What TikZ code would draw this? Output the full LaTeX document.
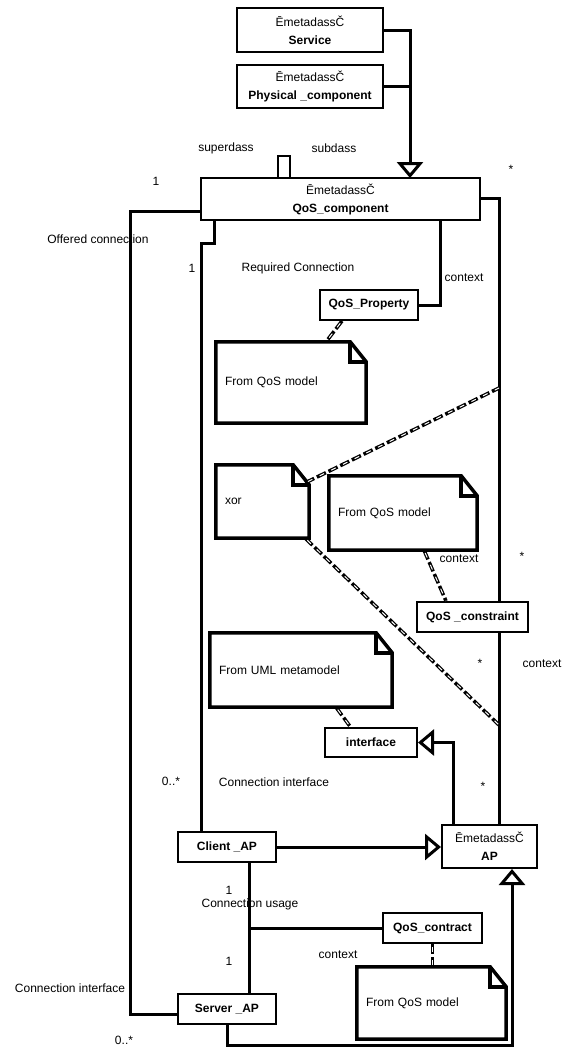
\documentclass[tikz,border=0pt]{standalone}
\usepackage{fontspec}
\setmainfont{Liberation Sans}
\usetikzlibrary{arrows.meta}

% note with folded corner, drawn round a named node
\newcommand\foldnote[1]{%
  \draw[notedraw] (#1.north west) -- ([xshift=-16pt]#1.north east)
    -- ([yshift=-20pt]#1.north east) -- (#1.south east) -- (#1.south west) -- cycle;
  \draw[notedraw] ([xshift=-16pt]#1.north east) -- ([xshift=-16pt,yshift=-20pt]#1.north east)
    -- ([yshift=-20pt]#1.north east);}

\begin{document}
\begin{tikzpicture}[x=1pt, y=-1pt,
    every node/.style={font=\fontsize{12}{14}\selectfont},
    classbox/.style={draw, line width=2pt, inner sep=0pt, align=center,
      font=\fontsize{12}{18}\selectfont},
    note/.style={inner xsep=9pt, inner ysep=0pt, align=left},
    notedraw/.style={line width=3.5pt, line join=miter},
    conn/.style={line width=3pt},
    gen/.style={conn, -{Triangle[open, length=16pt, width=26pt]}},
    depend/.style={line width=3.5pt, dash pattern=on 10pt off 3pt,
      postaction={draw=white, line width=1pt, dash pattern=on 5pt off 8pt, dash phase=-3pt}}]
    \useasboundingbox (0,0) rectangle (564,1047);

    % metaclasses at the top
    \node[classbox, minimum width=146, minimum height=44] (svc) at (310,30)
      {ĒmetadassČ\\\textbf{Service}};
    \node[classbox, minimum width=146, minimum height=43] (phys) at (310,86.5)
      {ĒmetadassČ\\\textbf{Physical \_component}};
    \node[classbox, minimum width=279, minimum height=42] (qoscomp) at (340.5,199)
      {ĒmetadassČ\\\textbf{QoS\_component}};
    \node[draw, line width=2pt, minimum width=12, minimum height=22, inner sep=0pt]
      (selfrel) at (284,167) {};
    \coordinate (genpt) at (410,178);

    % QoS side
    \node[classbox, minimum width=98, minimum height=30] (prop) at (369,305)
      {\textbf{QoS\_Property}};
    \node[note, text width=132, minimum height=81] (qosnote) at (291,382.5) {From QoS model};
    \node[note, text width=75, minimum height=73] (xornote) at (262.5,501.5) {xor};
    \node[note, text width=130, minimum height=74] (ctnote) at (403,513) {From QoS model};
    \node[classbox, minimum width=111, minimum height=30] (cons) at (472.5,617)
      {\textbf{QoS \_constraint}};
    \node[note, text width=164, minimum height=74] (umlnote) at (301,670) {From UML metamodel};
    \node[classbox, minimum width=92, minimum height=29] (iface) at (371,742.5)
      {\textbf{interface}};

    % access points
    \node[classbox, minimum width=98, minimum height=30] (client) at (227,847)
      {\textbf{Client \_AP}};
    \node[classbox, minimum width=95, minimum height=43] (ap) at (489.5,846.5)
      {ĒmetadassČ\\\textbf{AP}};
    \node[classbox, minimum width=99, minimum height=30] (contract) at (432.5,928)
      {\textbf{QoS\_contract}};
    \node[note, text width=131, minimum height=72] (usenote) at (431.5,1003) {From QoS model};
    \node[classbox, minimum width=98, minimum height=30] (server) at (227,1009)
      {\textbf{Server \_AP}};

    \foldnote{qosnote}
    \foldnote{xornote}
    \foldnote{ctnote}
    \foldnote{umlnote}
    \foldnote{usenote}

    \coordinate (xa) at (499,388);
    \coordinate (xb) at (499,725);
    \coordinate (usage) at (249,928);

    % generalisations
    \draw[gen] (svc.east) -| (genpt);
    \draw[conn] (phys.east) -- (phys.east -| genpt);
    \draw[gen] ([xshift=-36.5pt]ap.north) |- (iface.east);
    \draw[gen] (client.east) -- (client.east -| ap.west);
    \draw[gen] (server.south) -- ++(0,20) -| ([xshift=22.5pt]ap.south);

    % associations
    \draw[conn] ([yshift=-12pt]qoscomp.west) -- ++(-70,0) |- ([yshift=-5pt]server.west);
    \draw[conn] ([xshift=-126.5pt]qoscomp.south) -- ++(0,22) -| ([xshift=-26pt]client.north);
    \draw[conn] ([xshift=99.5pt]qoscomp.south) |- (prop.east);
    \draw[conn] ([yshift=1pt]qoscomp.east) -| ([xshift=26.5pt]cons.north);
    \draw[conn] ([xshift=26.5pt]cons.south) -- ([xshift=9.5pt]ap.north);
    \draw[conn] ([xshift=22pt]client.south) -- ([xshift=22pt]server.north);
    \draw[conn] (usage) -- (contract.west);

    % constraints and comments
    \draw[depend] ([xshift=-27pt]prop.south) -- ([xshift=35pt]qosnote.north);
    \draw[depend] ([xshift=-4pt,yshift=-18pt]xornote.north east) -- (xa);
    \draw[depend] ([xshift=-4pt]xornote.south east) -- (xb);
    \draw[depend] ([xshift=21pt]ctnote.south) -- ([xshift=-26.5pt]cons.north);
    \draw[depend] ([xshift=35pt]umlnote.south) -- ([xshift=-20.5pt]iface.north);
    \draw[depend] (contract.south) -- (contract.south |- usenote.north);

    % labels
    \node (lsuper) at (226,148) {superdass};
    \node (lsub) at (334,148) {subdass};
    \node (lone) at (156,181) {1};
    \node (lstar) at (511,169) {*};
    \node (loffer) at (98,239) {Offered connection};
    \node (ltwo) at (192,268) {1};
    \node (lreq) at (298,268) {Required Connection};
    \node (lctx) at (464,278) {context};
    \node (lstartwo) at (522,556) {*};
    \node (lctxtwo) at (459,559) {context};
    \node (lstarthree) at (480,663) {*};
    \node (lctxthree) at (542,664) {context};
    \node (lstarfour) at (483,786) {*};
    \node (lmany) at (171,781) {0..*};
    \node (lciface) at (274,782) {Connection interface};
    \node (lthree) at (229,890) {1};
    \node (lusage) at (250,904) {Connection usage};
    \node (lctxfour) at (338,955) {context};
    \node (lfour) at (229,961) {1};
    \node (lcifacetwo) at (70,988) {Connection interface};
    \node (lmanytwo) at (124,1040) {0..*};
\end{tikzpicture}
\end{document}
